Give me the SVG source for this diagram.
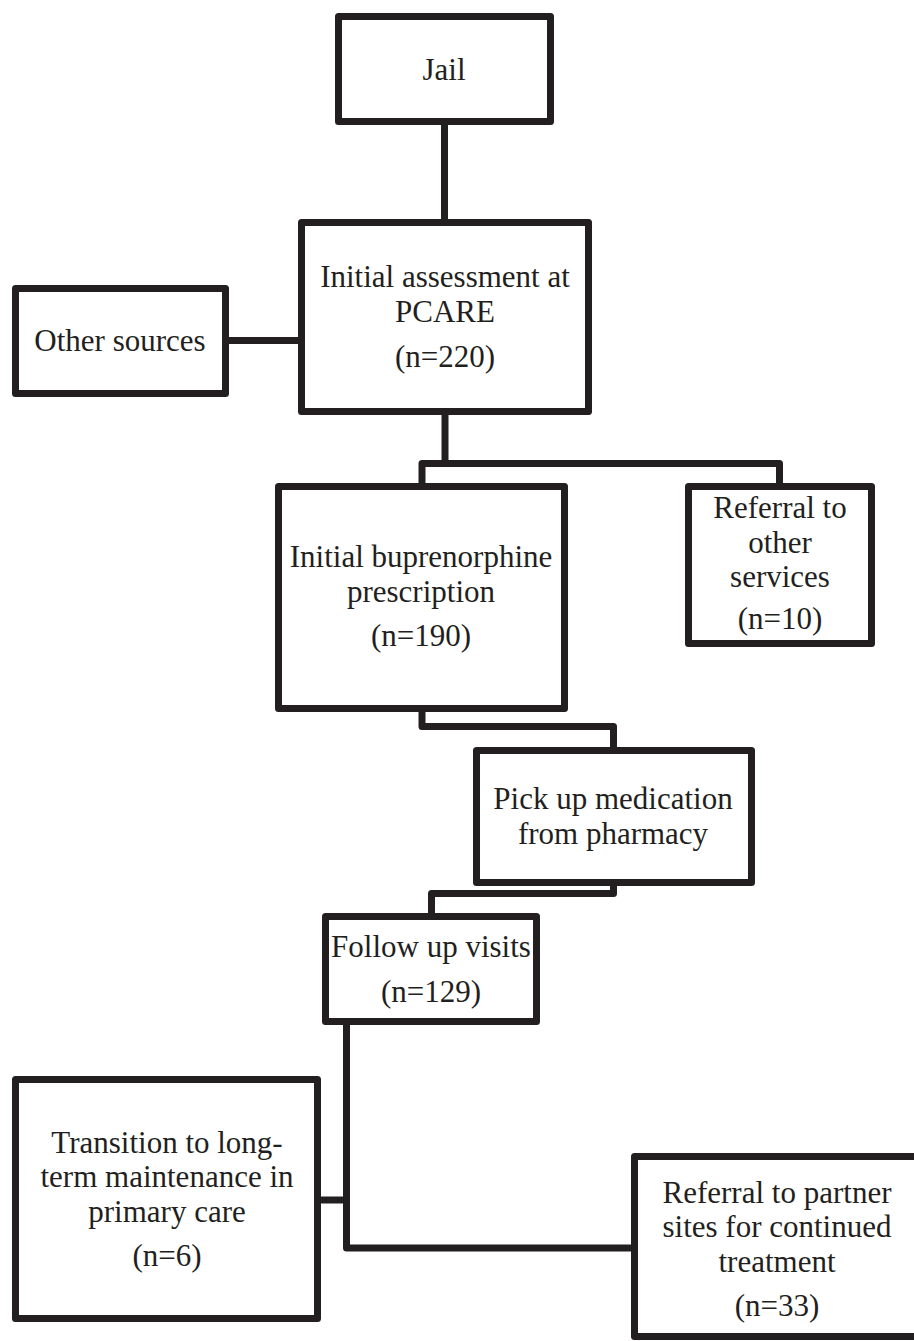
<svg xmlns="http://www.w3.org/2000/svg" width="914" height="1341" viewBox="0 0 914 1341">
<style>
.box{fill:#ffffff;stroke:#231f20;stroke-width:7;stroke-linejoin:round}
.conn{fill:none;stroke:#231f20;stroke-width:7;stroke-linejoin:round}
text{font-family:"Liberation Serif","Times New Roman",serif;font-size:31px;fill:#231f20;text-anchor:middle}
</style>
<rect width="914" height="1341" fill="#ffffff"/>
<g id="connectors">
<path class="conn" d="M444.5,125 V219"/>
<path class="conn" d="M229,340.5 H298"/>
<path class="conn" d="M445,415 V463.5"/>
<path class="conn" d="M422,483 V463.5 H779.5 V483"/>
<path class="conn" d="M422,712 V726.5 H613.5 V747"/>
<path class="conn" d="M613.5,886 V893.5 H431.5 V913"/>
<path class="conn" d="M346.5,1025 V1248 H631"/>
<path class="conn" d="M321,1200 H346.5"/>
</g>
<g id="jail">
<rect class="box" x="338.5" y="16.5" width="212" height="105"/>
<text x="444" y="80">Jail</text>
</g>
<g id="pcare">
<rect class="box" x="301.5" y="222.5" width="287" height="189"/>
<text x="445" y="287">Initial assessment at</text>
<text x="445" y="322">PCARE</text>
<text x="445" y="367">(n=220)</text>
</g>
<g id="other-sources">
<rect class="box" x="15.5" y="288.5" width="210" height="105"/>
<text x="120" y="351">Other sources</text>
</g>
<g id="buprenorphine">
<rect class="box" x="278.5" y="486.5" width="286" height="222"/>
<text x="421" y="566.5">Initial buprenorphine</text>
<text x="421" y="601.5">prescription</text>
<text x="421" y="646">(n=190)</text>
</g>
<g id="referral-other">
<rect class="box" x="688.5" y="486.5" width="183" height="157"/>
<text x="780" y="518">Referral to</text>
<text x="780" y="552.5">other</text>
<text x="780" y="587">services</text>
<text x="780" y="629">(n=10)</text>
</g>
<g id="pharmacy">
<rect class="box" x="476.5" y="750.5" width="275" height="132"/>
<text x="613" y="808.5">Pick up medication</text>
<text x="613" y="843.5">from pharmacy</text>
</g>
<g id="follow-up">
<rect class="box" x="325.5" y="916.5" width="211" height="105"/>
<text x="431" y="957">Follow up visits</text>
<text x="431" y="1002">(n=129)</text>
</g>
<g id="transition">
<rect class="box" x="15.5" y="1079.5" width="302" height="239"/>
<text x="167" y="1152.5">Transition to long-</text>
<text x="167" y="1187">term maintenance in</text>
<text x="167" y="1221.5">primary care</text>
<text x="167" y="1266">(n=6)</text>
</g>
<g id="referral-partner">
<rect class="box" x="634.5" y="1156.5" width="290" height="180"/>
<text x="777" y="1202.5">Referral to partner</text>
<text x="777" y="1237">sites for continued</text>
<text x="777" y="1271.5">treatment</text>
<text x="777" y="1316">(n=33)</text>
</g>
</svg>
